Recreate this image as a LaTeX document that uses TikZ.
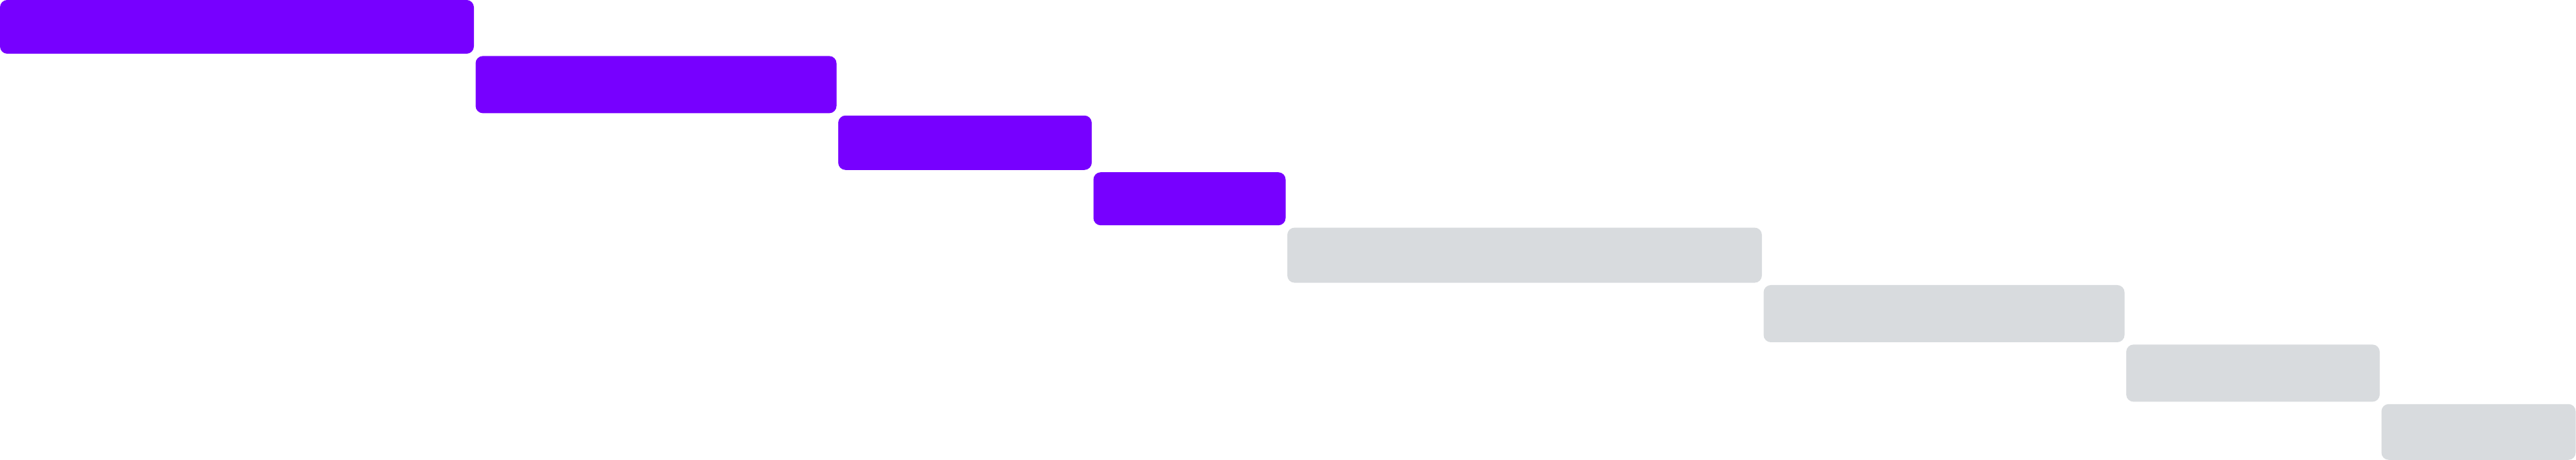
\documentclass[tikz,border=0pt]{standalone}
\usepackage{xcolor}
\definecolor{AccentA}{HTML}{7700FF}
\definecolor{AccentB}{HTML}{D8DBDE}
\usepackage{tikz}
\usetikzlibrary{positioning}

\begin{document}
\begin{tikzpicture}[
  node distance=0.34mm and 0.25mm,
  bar/.style={
    rectangle, rounded corners=3pt,
    inner sep=0pt, outer sep=0pt
  },
  done/.style={bar, fill=AccentA},
  todo/.style={bar, fill=AccentB},
]
\useasboundingbox (0,0) rectangle (374mm,66.8mm);

\node[done, anchor=north west, minimum width=68.8mm, minimum height=7.8mm] (t1) at (0,66.8mm) {};
\node[done, below right=of t1, minimum width=52.4mm, minimum height=8.3mm] (t2) {};
\node[done, below right=of t2, minimum width=36.8mm, minimum height=7.9mm] (t3) {};
\node[done, below right=of t3, minimum width=27.9mm, minimum height=7.7mm] (t4) {};

\node[todo, below right=of t4, minimum width=68.9mm, minimum height=8.0mm] (t5) {};
\node[todo, below right=of t5, minimum width=52.4mm, minimum height=8.3mm] (t6) {};
\node[todo, below right=of t6, minimum width=36.8mm, minimum height=8.3mm] (t7) {};
\node[todo, below right=of t7, minimum width=28.2mm, minimum height=8.1mm] (t8) {};

\end{tikzpicture}
\end{document}
